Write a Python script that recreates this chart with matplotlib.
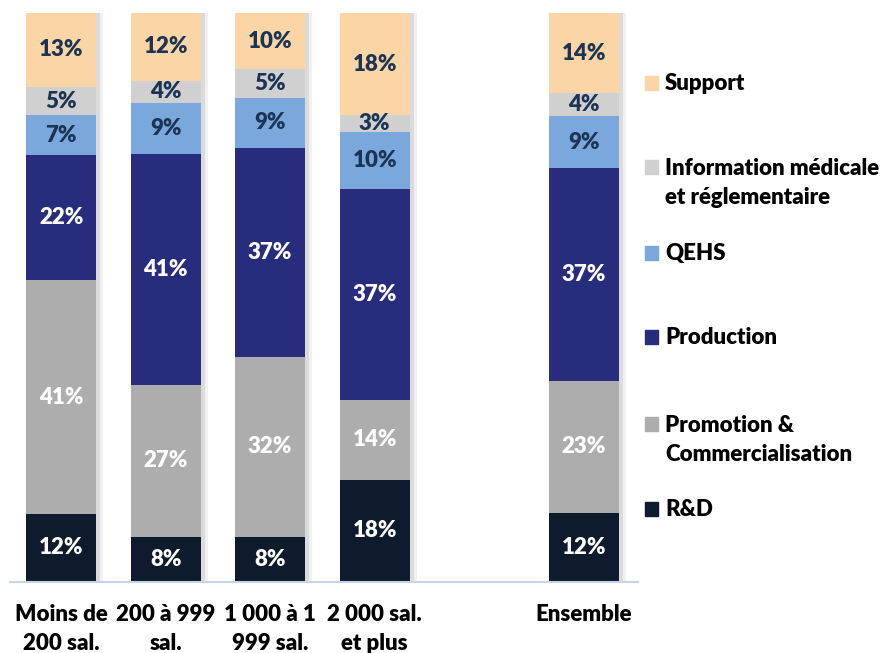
import matplotlib
matplotlib.use('Agg')
from matplotlib import pyplot as plt
from matplotlib import patheffects
from matplotlib.patches import Rectangle
import numpy as np

matplotlib.rcParams['font.family'] = ['Lato', 'DejaVu Sans']
matplotlib.rcParams['font.weight'] = 'heavy'

groups = ['Moins de\n200 sal.', '200 à 999\nsal.', '1 000 à 1\n999 sal.',
          '2 000 sal.\net plus', 'Ensemble']
xpos = [0, 1, 2, 3, 5]

categories = ['R&D', 'Promotion &\nCommercialisation', 'Production', 'QEHS',
              'Information médicale\net réglementaire', 'Support']
rd = [12, 8, 8, 18, 12]
promo = [41, 27, 32, 14, 23]
production = [22, 41, 37, 37, 37]
qehs = [7, 9, 9, 10, 9]
info = [5, 4, 5, 3, 4]
support = [13, 12, 10, 18, 14]
series = [rd, promo, production, qehs, info, support]

colors = ['#0e1b2c', '#adadad', '#282c7c', '#7aa7dc', '#d0d0d0', '#fbd5a6']
text_colors = ['white', 'white', 'white', '#1c3454', '#1c3454', '#1c3454']

FS = 16
W = 'heavy'

# 100% stacked: each column is scaled to its own total
totals = np.sum(np.array(series, dtype=float), axis=0)

fig = plt.figure(figsize=(8.81, 6.53), dpi=100)
ax = fig.add_axes([10/881, 1 - 582/653, 628/881, 569/653])

shadow = [patheffects.SimplePatchShadow(offset=(3, 0), shadow_rgbFace='#909090', alpha=0.22),
          patheffects.SimplePatchShadow(offset=(5, 0), shadow_rgbFace='#909090', alpha=0.12),
          patheffects.Normal()]

bottom = np.zeros(len(xpos))
for vals, col, tcol in zip(series, colors, text_colors):
    share = np.array(vals) / totals * 100
    bars = ax.bar(xpos, share, width=0.67, bottom=bottom, color=col,
                  edgecolor='none', zorder=2)
    for b in bars:
        b.set_path_effects(shadow)
    for x, v, s, b0 in zip(xpos, vals, share, bottom):
        ax.text(x, b0 + s / 2, '%d%%' % v, ha='center', va='center',
                color=tcol, fontsize=FS, fontweight=W, zorder=3)
    bottom = bottom + share

ax.set_xlim(-0.49, 5.52)
ax.set_ylim(0, 100)
for s in ['top', 'right', 'left']:
    ax.spines[s].set_visible(False)
ax.spines['bottom'].set_color('#c5d5e8')
ax.spines['bottom'].set_linewidth(1.5)
ax.set_yticks([])
ax.set_xticks(xpos)
ax.set_xticklabels(groups, fontsize=FS, fontweight=W, linespacing=1.45)
ax.tick_params(axis='x', length=0, pad=16)

# legend drawn by hand, top entry first
legend_y = [83, 167, 253, 337, 424, 509]
for i, (name, col) in enumerate(zip(categories[::-1], colors[::-1])):
    y = 1 - legend_y[i] / 653
    fig.patches.append(Rectangle((645/881, y - 7/653), 13/881, 14/653,
                                 transform=fig.transFigure, color=col))
    if '\n' in name:
        fig.text(665/881, y + 9/653, name, ha='left', va='top', fontsize=FS,
                 fontweight=W, color='black', linespacing=1.45)
    else:
        fig.text(665/881, y, name, ha='left', va='center', fontsize=FS,
                 fontweight=W, color='black')

plt.savefig('out.png', dpi=100)
